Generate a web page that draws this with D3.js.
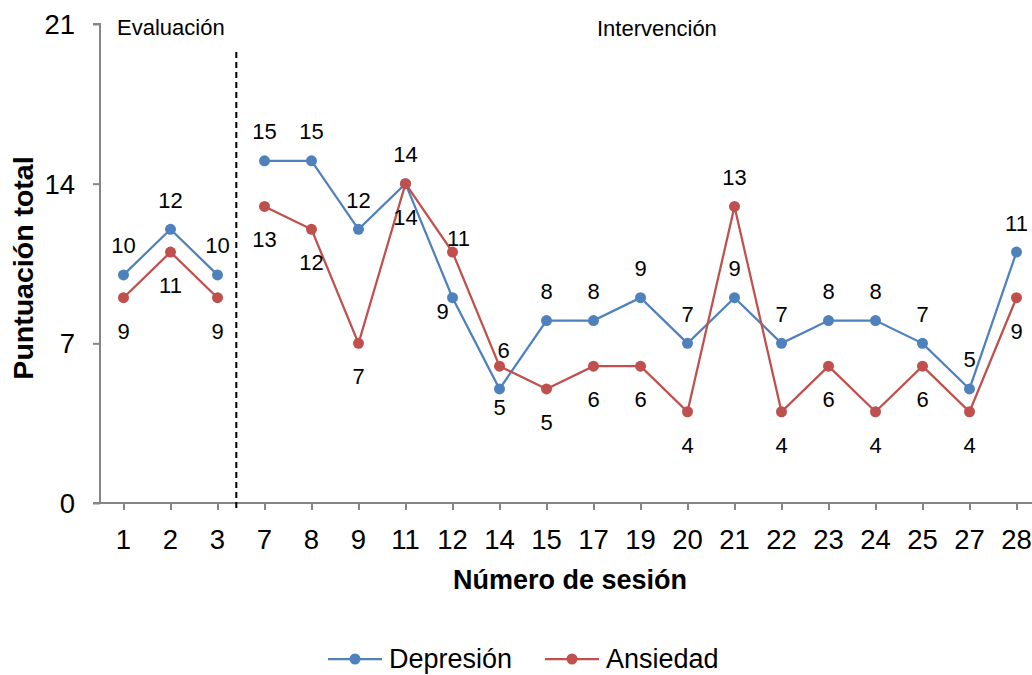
<!DOCTYPE html>
<html>
<head>
<meta charset="utf-8">
<script src="https://cdn.jsdelivr.net/npm/d3@7"></script>
<style>
  html, body { margin: 0; padding: 0; background: #fff; }
  svg { display: block; font-family: "Liberation Sans", Arial, sans-serif; }
</style>
</head>
<body>
<svg id="chart" width="1032" height="675"></svg>
<script>
// Session numbers shown on the x axis
const sessions = ["1", "2", "3", "7", "8", "9", "11", "12", "14", "15", "17", "19", "20", "21", "22", "23", "24", "25", "27", "28"];
// Sessions belonging to each phase (lines are not joined across phases)
const phaseSessions = [["1", "2", "3"], ["7", "8", "9", "11", "12", "14", "15", "17", "19", "20", "21", "22", "23", "24", "25", "27", "28"]];
// Total scores per session
const depresion = [10, 12, 10, 15, 15, 12, 14, 9, 5, 8, 8, 9, 7, 9, 7, 8, 8, 7, 5, 11];
const ansiedad  = [9, 11, 9, 13, 12, 7, 14, 11, 6, 5, 6, 6, 4, 13, 4, 6, 4, 6, 4, 9];
const yTicks = [0, 7, 14, 21];
const phaseLabels = ["Evaluación", "Intervención"];
const seriesNames = ["Depresión", "Ansiedad"];

const colors = { dep: "#4F81BD", anx: "#C0504D" };

// Where each value label sits relative to its marker (dx, baseline dy)
const depLabelPos = { "12": "belowLeft", "14": "belowTight" };
const anxLabelPos = { "12": "aboveRight", "14": "aboveTight", "21": "above" };
const labelOffsets = {
  above:      [0, -21.5],
  below:      [0, 41],
  belowLeft:  [-10, 21],
  belowTight: [0, 26],
  aboveRight: [6, -6],
  aboveTight: [4, -8]
};

const svg = d3.select("#chart");
const plot = { left: 100, right: 1040, top: 24, bottom: 503 };

const x = d3.scalePoint().domain(sessions).range([plot.left, plot.right]).padding(0.5);
const y = d3.scaleLinear().domain([0, 21]).range([plot.bottom, plot.top]);
const step = x.step();

const axisColor = "#868686";

// Y axis
const yAxis = svg.append("g")
  .attr("transform", `translate(${plot.left},0)`)
  .call(d3.axisLeft(y).tickValues(yTicks).tickSize(7).tickFormat(""));
yAxis.select(".domain").attr("stroke", axisColor).attr("stroke-width", 2).attr("d", `M-7,${plot.top}H0V${plot.bottom}`);
yAxis.selectAll(".tick line").attr("stroke", axisColor).attr("stroke-width", 2);
svg.append("g").selectAll("text")
  .data(yTicks)
  .join("text")
  .attr("x", 75)
  .attr("y", d => y(d) + 10)
  .attr("text-anchor", "end")
  .attr("font-size", 27.5)
  .attr("fill", "#000")
  .text(d => d);

// X axis
const xAxis = svg.append("g")
  .attr("transform", `translate(0,${plot.bottom})`)
  .call(d3.axisBottom(x).tickSize(7).tickFormat(""));
xAxis.select(".domain").attr("stroke", axisColor).attr("stroke-width", 2).attr("d", `M${plot.left - 7},0H${plot.right}`);
xAxis.selectAll(".tick line").attr("stroke", axisColor).attr("stroke-width", 2);
svg.append("g").selectAll("text")
  .data(sessions)
  .join("text")
  .attr("x", d => x(d))
  .attr("y", plot.bottom + 46)
  .attr("text-anchor", "middle")
  .attr("font-size", 27.5)
  .attr("fill", "#000")
  .text(d => d);

// Phase divider between assessment and intervention
const divX = x("3") + step * 0.4;
svg.append("line")
  .attr("x1", divX).attr("x2", divX)
  .attr("y1", 52).attr("y2", plot.bottom + 9)
  .attr("stroke", "#000").attr("stroke-width", 2)
  .attr("stroke-dasharray", "6,4");

// Phase titles
svg.append("text").attr("x", 117).attr("y", 35).attr("font-size", 22).text(phaseLabels[0]);
svg.append("text").attr("x", 597).attr("y", 36).attr("font-size", 22).text(phaseLabels[1]);

// Series
const series = [
  { key: "dep", values: depresion, color: colors.dep, pos: depLabelPos, def: "above" },
  { key: "anx", values: ansiedad,  color: colors.anx, pos: anxLabelPos, def: "below" }
];

const line = d3.line().x(d => x(d.s)).y(d => y(d.v));

// Lines per phase first, then markers on top
series.forEach(s => {
  const pts = sessions.map((sess, i) => ({ s: sess, v: s.values[i] }));
  phaseSessions.forEach(ph => {
    svg.append("path")
      .datum(pts.filter(p => ph.includes(p.s)))
      .attr("fill", "none")
      .attr("stroke", s.color)
      .attr("stroke-width", 2.25)
      .attr("d", line);
  });
});
series.forEach(s => {
  svg.append("g").selectAll("circle")
    .data(s.values)
    .join("circle")
    .attr("cx", (d, i) => x(sessions[i]))
    .attr("cy", d => y(d))
    .attr("r", 5.5)
    .attr("fill", s.color);
});

// Value labels
series.forEach(s => {
  svg.append("g").selectAll("text")
    .data(s.values)
    .join("text")
    .attr("x", (d, i) => x(sessions[i]) + labelOffsets[s.pos[sessions[i]] || s.def][0])
    .attr("y", (d, i) => y(d) + labelOffsets[s.pos[sessions[i]] || s.def][1])
    .attr("text-anchor", "middle")
    .attr("font-size", 22)
    .attr("fill", "#000")
    .text(d => d);
});

// Axis titles
svg.append("text")
  .attr("x", 570).attr("y", 589)
  .attr("text-anchor", "middle")
  .attr("font-size", 27).attr("font-weight", "bold")
  .text("Número de sesión");

svg.append("text")
  .attr("transform", `translate(33,268) rotate(-90)`)
  .attr("text-anchor", "middle")
  .attr("font-size", 28.5).attr("font-weight", "bold")
  .text("Puntuación total");

// Legend
const legend = [
  { name: seriesNames[0], color: colors.dep, x0: 328 },
  { name: seriesNames[1], color: colors.anx, x0: 545 }
];
const legY = 659;
legend.forEach(l => {
  svg.append("line")
    .attr("x1", l.x0).attr("x2", l.x0 + 54)
    .attr("y1", legY).attr("y2", legY)
    .attr("stroke", l.color).attr("stroke-width", 2.25);
  svg.append("circle")
    .attr("cx", l.x0 + 27).attr("cy", legY).attr("r", 5.5).attr("fill", l.color);
  svg.append("text")
    .attr("x", l.x0 + 61).attr("y", 668)
    .attr("font-size", 27)
    .text(l.name);
});
</script>
</body>
</html>
